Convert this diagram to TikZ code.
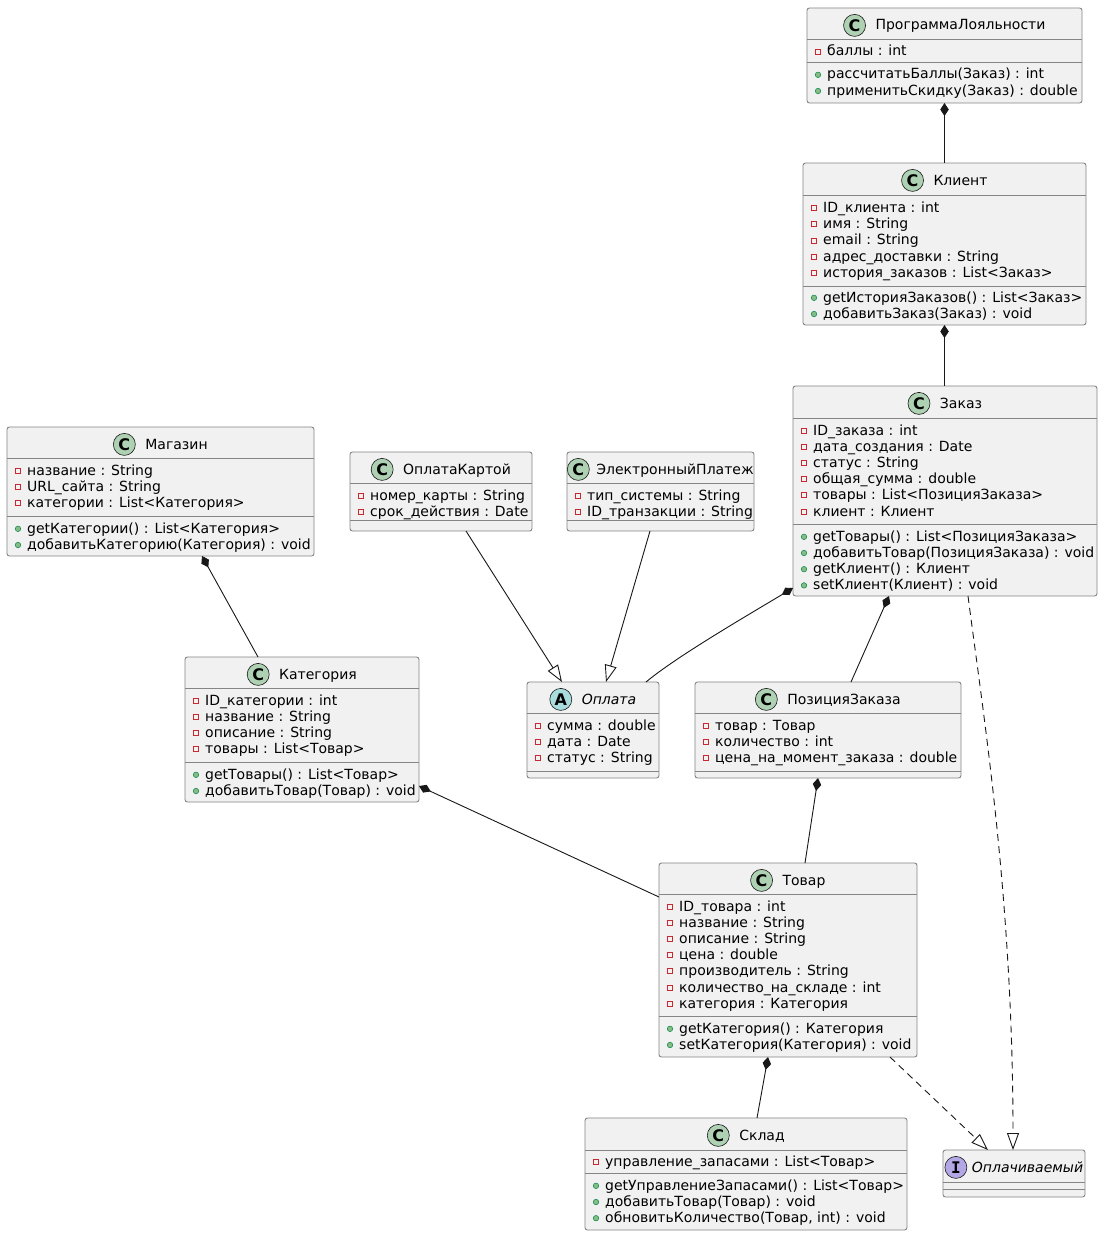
\documentclass[tikz,border=0pt]{standalone}
\usepackage{fontspec}
\setmainfont{DejaVu Sans}
\newfontfamily\iconmono{DejaVu Sans Mono}
\usetikzlibrary{arrows.meta}
\definecolor{boxfill}{HTML}{F1F1F1}
\definecolor{ink}{HTML}{181818}
\definecolor{boxline}{HTML}{858585}
\definecolor{cgreen}{HTML}{ADD1B2}
\definecolor{cabs}{HTML}{A9DCDF}
\definecolor{cint}{HTML}{B4A7E5}
\definecolor{privred}{HTML}{C82930}
\definecolor{pubfill}{HTML}{84BE84}
\definecolor{pubdraw}{HTML}{038048}
\tikzset{
 box/.style={draw=boxline, fill=boxfill, line width=0.9pt, rounded corners=2.5pt, inner sep=0, outer sep=0},
 sepl/.style={draw=boxline, line width=0.9pt},
 ttl/.style={inner sep=0, outer sep=0, font=\fontsize{14}{16}\selectfont, text=black},
 mem/.style={inner sep=0, anchor=base west, font=\fontsize{14}{16}\selectfont, text=black},
 ico/.style={circle, draw=ink, line width=0.6pt, minimum size=22pt, inner sep=0, font=\bfseries\fontsize{16}{16}\selectfont},
 privic/.style={rectangle, draw=privred, line width=0.7pt, minimum size=5pt, inner sep=0},
 pubic/.style={circle, draw=pubdraw, fill=pubfill, line width=0.5pt, minimum size=5.5pt, inner sep=0},
 conn/.style={draw=ink, line width=0.9pt},
 comp/.style={conn, {Diamond[length=13pt,width=8.5pt]}-},
 ext/.style={conn, -{Triangle[open,length=17pt,width=12pt]}},
 real/.style={ext, dash pattern=on 7pt off 5pt},
}
\newcommand\cls[7]{%
 \node[box, anchor=north west, minimum width={(#4-#2)*1pt}, minimum height={(#5-#3)*1pt}] (#1) at (#2,#3) {};
 \draw[sepl] (#2,#6) -- (#4,#6);
 \draw[sepl] (#2,#7) -- (#4,#7);}
\newcommand\hdr[7]{%
 \node[ttl, anchor=base] (#1t) at (#2,#3) {\hspace*{#4pt}#7};
 \node[ico, fill=#5] (#1i) at ([shift={(11pt,4.6pt)}]#1t.base west) {#6};}
\newcommand\privrows[4]{\foreach \t [count=\i from 0] in {#4}{%
 \node[privic] (#1pi\i) at ({#2+11},{#3+16.2*\i-4.5}) {};
 \node[mem] (#1pt\i) at ({#2+20},{#3+16.2*\i}) {\t};}}
\newcommand\pubrows[4]{\foreach \t [count=\i from 0] in {#4}{%
 \node[pubic] (#1mi\i) at ({#2+11},{#3+16.2*\i-4.2}) {};
 \node[mem] (#1mt\i) at ({#2+20},{#3+16.2*\i}) {\t};}}
\begin{document}
\begin{tikzpicture}[x=1pt,y=-1pt]
\fill[white] (0,0) rectangle (1103,1236);
\useasboundingbox (0,0) rectangle (1103,1236);

% ПрограммаЛояльности
\cls{prog}{807}{8}{1082}{103}{39}{62}
\hdr{prog}{944.5}{30}{32}{cgreen}{C}{ПрограммаЛояльности}
\privrows{prog}{807}{56}{баллы : int}
\pubrows{prog}{807}{79}{рассчитатьБаллы(Заказ) : int,применитьСкидку(Заказ) : double}

% Клиент
\cls{klient}{803}{163}{1086}{325}{195}{286}
\hdr{klient}{944.5}{185}{32}{cgreen}{C}{Клиент}
\privrows{klient}{803}{212.5}{ID\_клиента : int,имя : String,email : String,адрес\_доставки : String,история\_заказов : List<Заказ>}
\pubrows{klient}{803}{302}{getИсторияЗаказов() : List<Заказ>,добавитьЗаказ(Заказ) : void}

% Заказ
\cls{zakaz}{793}{386}{1097}{596}{418}{524}
\hdr{zakaz}{945}{408}{32}{cgreen}{C}{Заказ}
\privrows{zakaz}{793}{435}{ID\_заказа : int,дата\_создания : Date,статус : String,общая\_сумма : double,товары : List<ПозицияЗаказа>,клиент : Клиент}
\pubrows{zakaz}{793}{541}{getТовары() : List<ПозицияЗаказа>,добавитьТовар(ПозицияЗаказа) : void,getКлиент() : Клиент,setКлиент(Клиент) : void}

% Магазин
\cls{magazin}{7}{427}{314}{556}{458}{516}
\hdr{magazin}{160.5}{449}{32}{cgreen}{C}{Магазин}
\privrows{magazin}{7}{475}{название : String,URL\_сайта : String,категории : List<Категория>}
\pubrows{magazin}{7}{533}{getКатегории() : List<Категория>,добавитьКатегорию(Категория) : void}

% ОплатаКартой
\cls{kartoi}{350}{452}{532}{531}{483}{520}
\hdr{kartoi}{441}{474}{32}{cgreen}{C}{ОплатаКартой}
\privrows{kartoi}{350}{500}{номер\_карты : String,срок\_действия : Date}

% ЭлектронныйПлатеж
\cls{elektron}{567}{452}{754}{531}{483}{520}
\hdr{elektron}{660.5}{474}{29}{cgreen}{C}{ЭлектронныйПлатеж}
\privrows{elektron}{567}{500}{тип\_системы : String,ID\_транзакции : String}

% Оплата
\cls{oplata}{527}{682}{659}{778}{713}{771}
\hdr{oplata}{593}{704}{32}{cabs}{A}{\itshape Оплата}
\privrows{oplata}{527}{730}{сумма : double,дата : Date,статус : String}

% ПозицияЗаказа
\cls{pozicia}{695}{682}{961}{778}{713}{771}
\hdr{pozicia}{828}{704}{32}{cgreen}{C}{ПозицияЗаказа}
\privrows{pozicia}{695}{730}{товар : Товар,количество : int,цена\_на\_момент\_заказа : double}

% Категория
\cls{kategoria}{185}{657}{419}{802}{688}{762}
\hdr{kategoria}{302}{679}{32}{cgreen}{C}{Категория}
\privrows{kategoria}{185}{705}{ID\_категории : int,название : String,описание : String,товары : List<Товар>}
\pubrows{kategoria}{185}{779}{getТовары() : List<Товар>,добавитьТовар(Товар) : void}

% Товар
\cls{tovar}{659}{863}{917}{1057}{894}{1016}
\hdr{tovar}{788}{885}{32}{cgreen}{C}{Товар}
\privrows{tovar}{659}{911}{ID\_товара : int,название : String,описание : String,цена : double,производитель : String,количество\_на\_складе : int,категория : Категория}
\pubrows{tovar}{659}{1033}{getКатегория() : Категория,setКатегория(Категория) : void}

% Склад
\cls{sklad}{585}{1118}{907}{1230}{1150}{1173}
\hdr{sklad}{746}{1140}{32}{cgreen}{C}{Склад}
\privrows{sklad}{585}{1166}{управление\_запасами : List<Товар>}
\pubrows{sklad}{585}{1190}{getУправлениеЗапасами() : List<Товар>,добавитьТовар(Товар) : void,{обновитьКоличество(Товар, int) : void}}

% Оплачиваемый
\cls{oplachiv}{943}{1150}{1085}{1197}{1182}{1189}
\hdr{oplachiv}{1014}{1172}{27}{cint}{\iconmono\bfseries I}{\itshape Оплачиваемый}

% Connectors
\draw[comp] (prog.south) -- (klient.north);
\draw[comp] (klient.south) -- (klient.south |- zakaz.north);
\draw[comp] ([xshift=195pt]magazin.south west) -- ([xshift=73pt]kategoria.north west);
\draw[comp] ([yshift=8pt]zakaz.south west) .. controls +(-50,30) and +(30,-25) .. ([xshift=119pt]oplata.north west);
\draw[comp] ([xshift=96pt]zakaz.south west) -- ([xshift=156pt]pozicia.north west);
\draw[comp] ([xshift=123pt]pozicia.south west) -- ([xshift=146pt]tovar.north west);
\draw[comp] ([yshift=16pt]kategoria.south east) -- ([yshift=-34pt]tovar.north west);
\draw[comp] ([xshift=109pt]tovar.south west) -- ([xshift=172pt]sklad.north west);
\draw[ext] ([xshift=116pt]kartoi.south west) -- ([xshift=35pt]oplata.north west);
\draw[ext] ([xshift=83pt]elektron.south west) -- ([xshift=79pt]oplata.north west);
\draw[real] ([xshift=231pt]tovar.south west) -- ([xshift=45pt]oplachiv.north west);
\draw[real] ([xshift=175pt]zakaz.south west) .. controls +(16,124) and +(0,-250) .. ([xshift=70pt]oplachiv.north west);
\end{tikzpicture}
\end{document}
